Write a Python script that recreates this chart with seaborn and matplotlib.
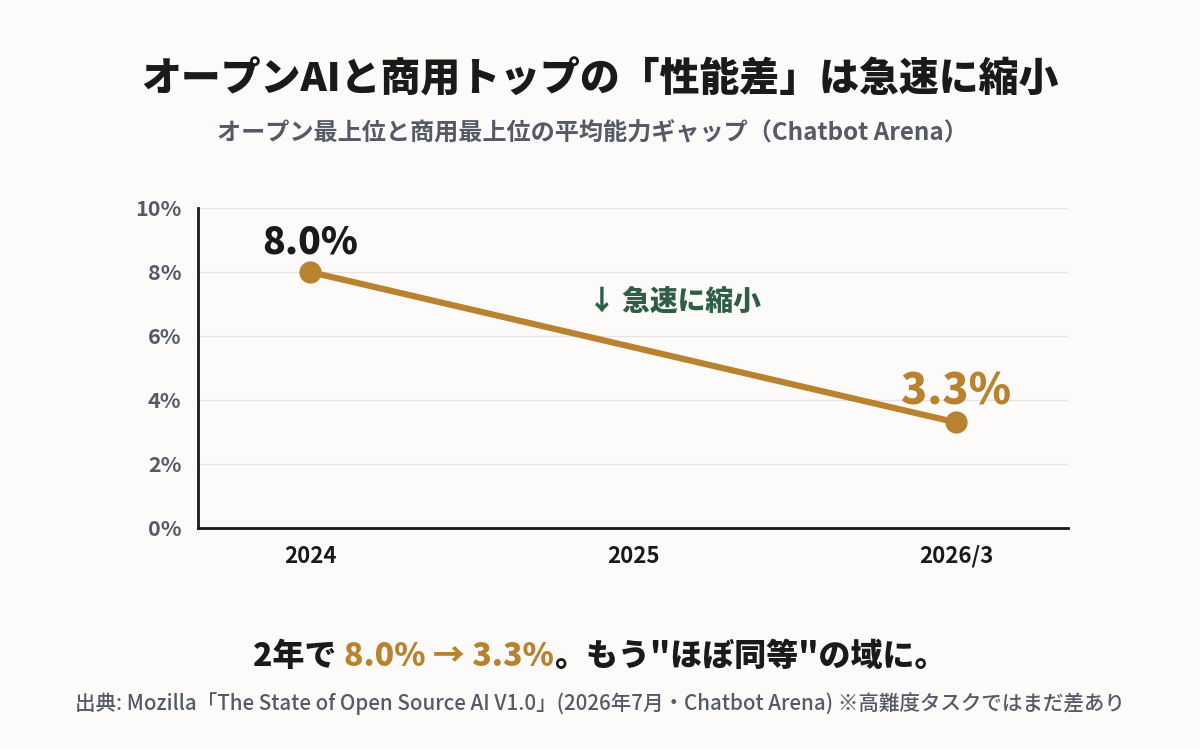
import numpy as np
import pandas as pd
import matplotlib
matplotlib.use("Agg")
import matplotlib.pyplot as plt
import seaborn as sns

# ---- data ----
categories = ["2024", "2025", "2026/3"]
gap_pct = [8.0, np.nan, 3.3]
y_ticks = [0, 2, 4, 6, 8, 10]

title = "オープンAIと商用トップの「性能差」は急速に縮小"
subtitle = "オープン最上位と商用最上位の平均能力ギャップ（Chatbot Arena）"
note = "↓ 急速に縮小"
source = "出典: Mozilla「The State of Open Source AI V1.0」(2026年7月・Chatbot Arena) ※高難度タスクではまだ差あり"

BG = "#fcfbf9"
GOLD = "#b8822f"
GREEN = "#2e5e4a"
GRAY = "#555a66"
BLACK = "#1a1a1a"

sns.set_theme(style="white")
plt.rcParams['font.family'] = ['Noto Sans CJK JP', 'DejaVu Sans']

df = pd.DataFrame({"cat": categories, "pos": range(len(categories)), "gap": gap_pct}).dropna()

fig = plt.figure(figsize=(12, 7.5), dpi=100, facecolor=BG)
ax = fig.add_axes([0.165, 0.296, 0.725, 0.4267])
ax.set_facecolor(BG)

sns.lineplot(data=df, x="pos", y="gap", ax=ax, color=GOLD, linewidth=4.5,
             marker="o", markersize=16, markeredgewidth=0, zorder=5)

ax.set_xlim(-0.347, len(categories) - 1 + 0.347)
ax.set_ylim(0, 10)
ax.set_xticks(range(len(categories)))
ax.set_xticklabels(categories)
ax.set_yticks(y_ticks)
ax.set_yticklabels([f"{v}%" for v in y_ticks])
ax.set_xlabel("")
ax.set_ylabel("")
for t in ax.get_xticklabels():
    t.set_fontsize(16); t.set_fontweight("bold"); t.set_color(BLACK)
for t in ax.get_yticklabels():
    t.set_fontsize(15.5); t.set_fontweight("bold"); t.set_color(GRAY)
ax.tick_params(axis="x", length=0, pad=12)
ax.tick_params(axis="y", length=0, pad=12)
ax.grid(axis="y", color="#e6e4e0", linewidth=1)
ax.set_axisbelow(True)
for s in ["top", "right"]:
    ax.spines[s].set_visible(False)
for s in ["left", "bottom"]:
    ax.spines[s].set_color(BLACK)
    ax.spines[s].set_linewidth(2)

# value labels
first = df.iloc[0]; last = df.iloc[-1]
ax.annotate(f"{first.gap:.1f}%", (first.pos, first.gap), xytext=(0, 21),
            textcoords="offset points", ha="center", va="center",
            fontsize=27, fontweight="heavy", color=BLACK)
ax.annotate(f"{last.gap:.1f}%", (last.pos, last.gap), xytext=(0, 22),
            textcoords="offset points", ha="center", va="center",
            fontsize=31, fontweight="heavy", color=GOLD)
ax.text(0.86, 7.06, note, ha="left", va="center", fontsize=20,
        fontweight="heavy", color=GREEN)

fig.text(0.5, 0.893, title, ha="center", va="center", fontsize=28.7,
         fontweight="heavy", color=BLACK)
fig.text(0.494, 0.822, subtitle, ha="center", va="center", fontsize=17.4,
         fontweight="bold", color=GRAY)

# mixed-colour caption
pieces = [("2年で ", BLACK), ("8.0% → 3.3%", GOLD), ("。もう\"ほぼ同等\"の域に。", BLACK)]
fig.canvas.draw()
renderer = fig.canvas.get_renderer()
texts = []
widths = []
for s, c in pieces:
    t = fig.text(0, 0.125, s, ha="left", va="center", fontsize=23,
                 fontweight="heavy", color=c)
    bb = t.get_window_extent(renderer=renderer)
    texts.append(t); widths.append(bb.width)
total = sum(widths)
x0 = (fig.bbox.width - total) / 2
for t, w in zip(texts, widths):
    t.set_x(x0 / fig.bbox.width)
    x0 += w

fig.text(0.5, 0.062, source, ha="center", va="center", fontsize=14.8,
         fontweight="medium", color=GRAY)

fig.savefig("out.png", dpi=100, facecolor=BG)
